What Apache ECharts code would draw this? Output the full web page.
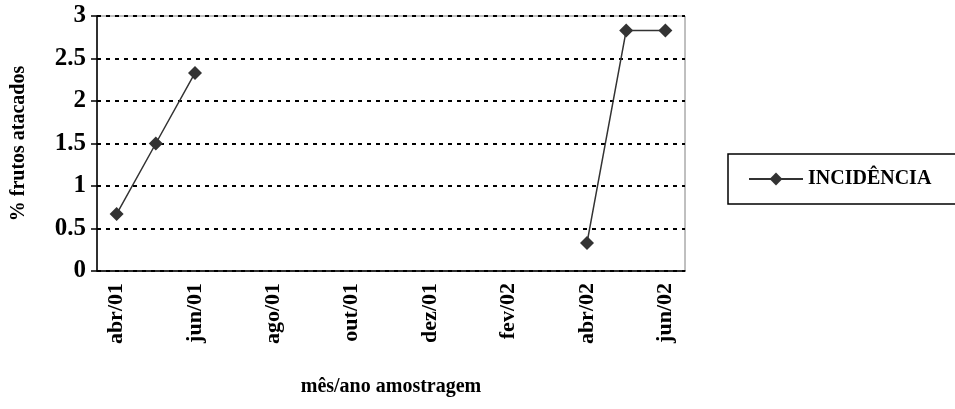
<!DOCTYPE html>
<html><head><meta charset="utf-8">
<script src="https://cdn.jsdelivr.net/npm/echarts@6/dist/echarts.min.js"></script>
<style>html,body{margin:0;padding:0;background:#fff}#c{width:955px;height:409px}</style>
</head><body><div id="c"></div>
<script>
var categories = ['abr/01','mai/01','jun/01','jul/01','ago/01','set/01','out/01','nov/01','dez/01','jan/02','fev/02','mar/02','abr/02','mai/02','jun/02'];
var incidencia = [0.67, 1.5, 2.33, null, null, null, null, null, null, null, null, null, 0.33, 2.83, 2.83];
var yTicks = [0, 0.5, 1, 1.5, 2, 2.5, 3];
var font = 'Liberation Serif, Times New Roman, serif';
var chart = echarts.init(document.getElementById('c'));
chart.setOption({
  animation: false,
  backgroundColor: '#fff',
  grid: {left: 97, right: 270, top: 16, bottom: 138, show: true, borderColor: '#808080', borderWidth: 1},
  legend: {
    left: 728, top: 154, orient: 'vertical',
    padding: [15, 60, 15, 20],
    borderColor: '#000', borderWidth: 1.5,
    itemWidth: 54, itemHeight: 16, itemGap: 6,
    itemStyle: {color: '#333'},
    textStyle: {fontFamily: font, fontWeight: 'bold', fontSize: 20, color: '#000'},
    data: ['INCIDÊNCIA']
  },
  xAxis: {
    type: 'category', data: categories, boundaryGap: true,
    name: 'mês/ano amostragem', nameLocation: 'middle', nameGap: 106,
    nameTextStyle: {fontFamily: font, fontWeight: 'bold', fontSize: 20, color: '#000'},
    axisLine: {lineStyle: {color: '#000', width: 1.5}},
    axisTick: {interval: 1, length: 6, lineStyle: {color: '#000', width: 1.5}},
    axisLabel: {interval: 1, rotate: 90, margin: 12, fontFamily: font, fontWeight: 'bold', fontSize: 22, color: '#000'},
    splitLine: {show: false}
  },
  yAxis: {
    type: 'value', min: 0, max: 3, interval: 0.5,
    name: '% frutos atacados', nameLocation: 'middle', nameGap: 68, nameRotate: 90,
    nameTextStyle: {fontFamily: font, fontWeight: 'bold', fontSize: 20, color: '#000'},
    axisLine: {show: true, lineStyle: {color: '#000', width: 1.5}},
    axisTick: {show: true, length: 6, lineStyle: {color: '#000', width: 1.5}},
    axisLabel: {margin: 11, fontFamily: font, fontWeight: 'bold', fontSize: 25, color: '#000',
      formatter: function (v) { return yTicks.indexOf(v) >= 0 ? String(v) : ''; }},
    splitLine: {show: true, lineStyle: {color: '#000', type: [4, 5], width: 2}}
  },
  series: [{
    name: 'INCIDÊNCIA', type: 'line', data: incidencia, connectNulls: false,
    symbol: 'diamond', symbolSize: 14,
    lineStyle: {color: '#333', width: 1.5},
    itemStyle: {color: '#333'}
  }]
});
</script></body></html>
